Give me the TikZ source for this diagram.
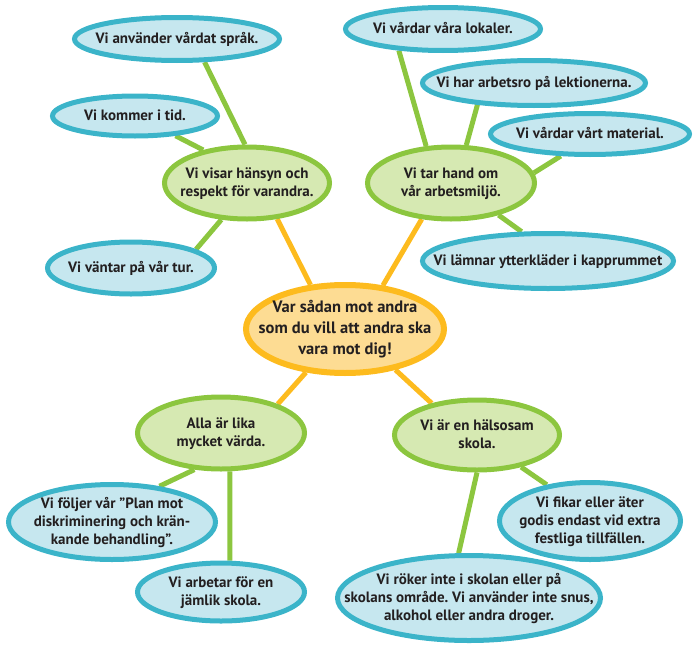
\documentclass[tikz,border=0pt]{standalone}
\usepackage{fontspec}
\setmainfont{PT Sans}
\usetikzlibrary{shapes.geometric,backgrounds}
\frenchspacing
\definecolor{bluebd}{HTML}{3BB4C9}
\definecolor{bluefill}{HTML}{C6E7EF}
\definecolor{greenbd}{HTML}{8CC63F}
\definecolor{greenfill}{HTML}{D6E9B2}
\definecolor{orangebd}{HTML}{FDBB1E}
\definecolor{orangefill}{HTML}{FDDC93}
\definecolor{txt}{HTML}{231F20}
\newcommand{\zt}[1]{\makebox[0pt]{\raisebox{-0.3em}[0pt][0pt]{\begin{tabular}{@{}c@{}}#1\end{tabular}}}}
\tikzset{
  bub/.style={ellipse, inner sep=0pt, text=txt,
    font=\fontsize{15}{18}\selectfont\bfseries\frenchspacing},
  bluebub/.style={bub, draw=bluebd, fill=bluefill, line width=5pt},
  greenbub/.style={bub, draw=greenbd, fill=greenfill, line width=5pt},
  mainbub/.style={bub, draw=orangebd, fill=orangefill, line width=6pt,
    font=\fontsize{16.5}{21}\selectfont\bfseries},
  gline/.style={draw=greenbd, line width=5pt},
  oline/.style={draw=orangebd, line width=5pt},
}
\begin{document}
\begin{tikzpicture}[x=1pt,y=-1pt]
\useasboundingbox (0,0) rectangle (693,645);
% central
\node[mainbub, minimum width=198pt, minimum height=88pt] (C) at (345,329) {\zt{Var sådan mot andra\\som du vill att andra ska\\vara mot dig!}};
% green nodes
\node[greenbub, minimum width=165pt, minimum height=72pt] (G1) at (247,183) {\zt{Vi visar hänsyn och\\respekt för varandra.}};
\node[greenbub, minimum width=167pt, minimum height=72pt] (G2) at (451,183) {\zt{Vi tar hand om\\vår arbetsmiljö.}};
\node[greenbub, minimum width=167pt, minimum height=72pt] (G3) at (221,433) {\zt{Alla är lika\\mycket värda.}};
\node[greenbub, minimum width=165pt, minimum height=70pt] (G4) at (477,435) {\zt{Vi är en hälsosam\\skola.}};
% blue nodes
\node[bluebub, minimum width=205pt, minimum height=43pt] (B1) at (177,39) {\zt{Vi använder vårdat språk.}};
\node[bluebub, minimum width=165pt, minimum height=40pt] (B2) at (135,116) {\zt{Vi kommer i tid.}};
\node[bluebub, minimum width=167pt, minimum height=52pt] (B3) at (131,268) {\zt{Vi väntar på vår tur.}};
\node[bluebub, minimum width=195pt, minimum height=43pt] (B4) at (443,29) {\zt{Vi vårdar våra lokaler.}};
\node[bluebub, minimum width=223pt, minimum height=45pt] (B5) at (534,83) {\zt{Vi har arbetsro på lektionerna.}};
\node[bluebub, minimum width=199pt, minimum height=41pt] (B6) at (590,134) {\zt{Vi vårdar vårt material.}};
\node[bluebub, minimum width=251pt, minimum height=55pt] (B7) at (548,261) {\zt{Vi lämnar ytterkläder i kapprummet}};
\node[bluebub, minimum width=207pt, minimum height=75pt] (B8) at (112,522) {\zt{Vi följer vår ”Plan mot\\diskriminering och krän-\\kande behandling”.}};
\node[bluebub, minimum width=167pt, minimum height=58pt] (B9) at (221,592) {\zt{Vi arbetar för en\\jämlik skola.}};
\node[bluebub, minimum width=181pt, minimum height=77pt] (B10) at (590,521) {\zt{Vi fikar eller äter\\godis endast vid extra\\festliga tillfällen.}};
\node[bluebub, minimum width=263pt, minimum height=85pt] (B11) at (469,598) {\zt{Vi röker inte i skolan eller på\\skolans område. Vi använder inte snus,\\alkohol eller andra droger.}};
% connectors
\begin{scope}[on background layer]
\draw[oline] (C.128.8) -- (G1.-50.5);
\draw[oline] (C.49.4) -- (G2.231);
\draw[oline] (C.228.6) -- (G3.27);
\draw[oline] (C.-39) -- (G4.145);
\draw[gline] (G1.93) -- (B1.-40);
\draw[gline] (G1.143.3) -- (B2.-26);
\draw[gline] (G1.235) -- (B3.16.6);
\draw[gline] (G2.124.4) -- (B4.206);
\draw[gline] (G2.68.7) -- (B5.201);
\draw[gline] (G2.7.7) -- (B6.217.5);
\draw[gline] (G2.-34.8) -- (B7.132);
\draw[gline] (G3.234) -- (B8.37.6);
\draw[gline] (G3.283) -- (B9.74.3);
\draw[gline] (G4.-36.3) -- (B10.140.3);
\draw[gline] (G4.-90) -- (B11.103.7);
\end{scope}
\end{tikzpicture}
\end{document}
